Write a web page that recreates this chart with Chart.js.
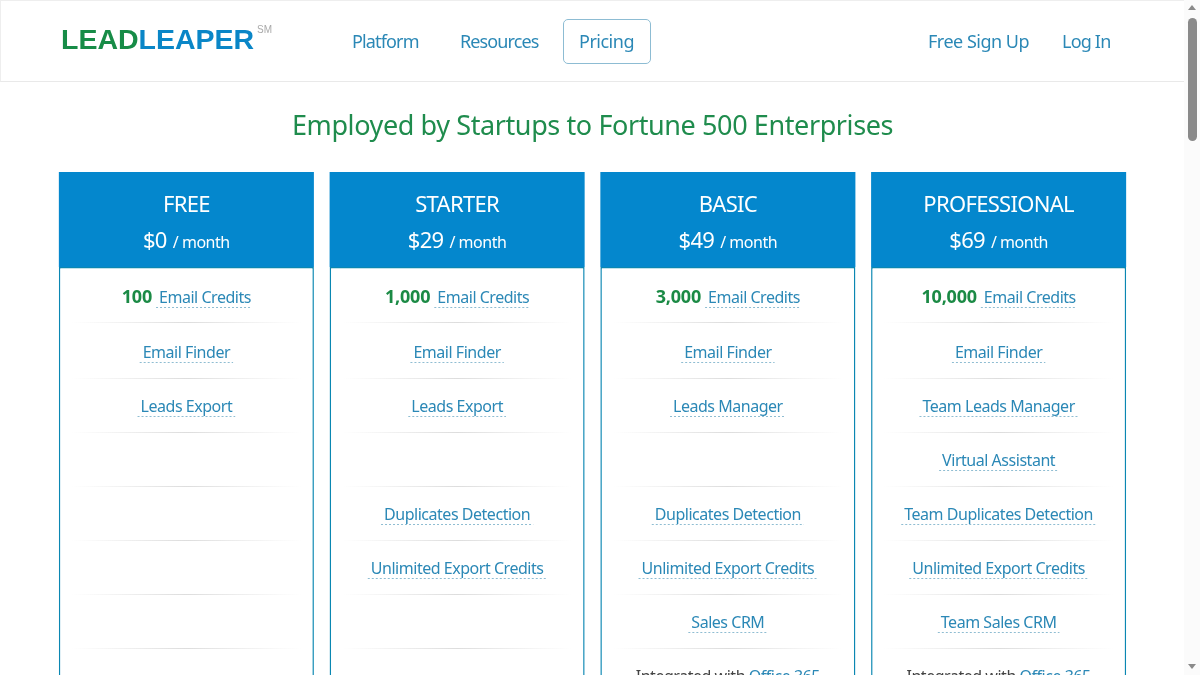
<!DOCTYPE html>
<html>
<head>
<meta charset="utf-8">
<title>LeadLeaper Pricing</title>
<script src="https://cdn.jsdelivr.net/npm/chart.js@4"></script>
<style>
  html, body { margin: 0; height: 675px; overflow: hidden; background: #fff; font-family: "Noto Sans", sans-serif; }
  #chart { position: absolute; left: 0; top: 0; }
  .nav { position: absolute; left: 0; top: 0; width: 1183px; height: 80px; border-top: 1px solid #eee; border-left: 1px solid #eee; border-bottom: 1px solid #e9e9e9; }
  .nav span { position: absolute; color: #2b88b6; font-size: 18px; line-height: 24px; top: 28px; letter-spacing: -0.5px; white-space: nowrap; }
  .logo { position: absolute; left: 60px; top: 21px; font: bold 28.5px "Liberation Sans", sans-serif; line-height: 34px; white-space: nowrap; letter-spacing: 0; }
  .logo b:first-child { color: #178c47; } .logo b:nth-child(2) { color: #0a86c7; }
  .logo sup { position: absolute; left: 196px; top: 2px; font: 10px "Liberation Sans", sans-serif; color: #aaa; letter-spacing: 0; }
  .pill { position: absolute; left: 562px; top: 18px; width: 86px; height: 43px; border: 1px solid #8dbcd3; border-radius: 5px; }
  h1 { position: absolute; left: 0; width: 1185px; top: 106px; margin: 0; text-align: center; font-weight: 400; font-size: 27px; line-height: 38px; color: #1f8c4d; letter-spacing: -0.4px; }
  .scroll { position: absolute; left: 1184px; top: 0; width: 16px; height: 675px; background: #fbfbfb; }
  .thumb { position: absolute; left: 4px; top: 18px; width: 9px; height: 123px; border-radius: 5px; background: #8a8a8a; }
  .up, .down { position: absolute; left: 4px; width: 0; height: 0; border-left: 4.5px solid transparent; border-right: 4.5px solid transparent; }
  .up { top: 5px; border-bottom: 5px solid #8a8a8a; } .down { top: 664px; border-top: 5px solid #8a8a8a; }
</style>
</head>
<body>
<canvas id="chart" width="1200" height="675"></canvas>
<div class="nav">
  <div class="logo"><b>LEAD</b><b>LEAPER</b><sup>SM</sup></div>
  <div class="pill"></div>
  <span style="left:351px;letter-spacing:-0.85px">Platform</span>
  <span style="left:459px;letter-spacing:-0.9px">Resources</span>
  <span style="left:578px">Pricing</span>
  <span style="left:927px">Free Sign Up</span>
  <span style="left:1061px;letter-spacing:-0.8px">Log In</span>
</div>
<h1>Employed by Startups to Fortune 500 Enterprises</h1>
<div class="scroll"><div class="up"></div><div class="thumb"></div><div class="down"></div></div>
<script>
const plans = ['FREE', 'STARTER', 'BASIC', 'PROFESSIONAL'];
const prices = ['$0', '$29', '$49', '$69'];
const credits = ['100', '1,000', '3,000', '10,000'];
const freeRows = ['Email Finder', 'Leads Export', '', '', '', '', ''];
const starterRows = ['Email Finder', 'Leads Export', '', 'Duplicates Detection', 'Unlimited Export Credits', '', ''];
const basicRows = ['Email Finder', 'Leads Manager', '', 'Duplicates Detection', 'Unlimited Export Credits', 'Sales CRM', 'Office 365'];
const proRows = ['Email Finder', 'Team Leads Manager', 'Virtual Assistant', 'Team Duplicates Detection', 'Unlimited Export Credits', 'Team Sales CRM', 'Office 365'];
const planRows = [freeRows, starterRows, basicRows, proRows];

const FONT = '"Noto Sans", sans-serif';
const BLUE = '#2b88b6';
const GREEN = '#1b8a45';
const TOP_ROW = -1.815;
const BOTTOM_ROW = 7.5;
const HEADER_END = -0.055;

function spaced(ctx, font, spacing) {
  ctx.font = font;
  ctx.letterSpacing = spacing;
}

function underline(ctx, x0, x1, y) {
  ctx.save();
  ctx.strokeStyle = '#8fbdd2';
  ctx.lineWidth = 1;
  ctx.setLineDash([2, 2]);
  ctx.beginPath();
  ctx.moveTo(x0, y + 0.5);
  ctx.lineTo(x1, y + 0.5);
  ctx.stroke();
  ctx.restore();
}

const cardText = {
  id: 'cardText',
  afterDatasetsDraw(chart) {
    const ctx = chart.ctx;
    const xs = chart.scales.x;
    const ys = chart.scales.y;
    ctx.save();
    ctx.textBaseline = 'alphabetic';
    plans.forEach((plan, i) => {
      const cx = xs.getPixelForTick(i);

      // card header
      ctx.fillStyle = '#fff';
      ctx.textAlign = 'center';
      spaced(ctx, '22px ' + FONT, '-0.7px');
      ctx.fillText(plan, cx, 212);
      ctx.textAlign = 'left';
      const pw = ctx.measureText(prices[i]).width;
      spaced(ctx, '16px ' + FONT, '-0.47px');
      const mw = ctx.measureText('/ month').width;
      const start = cx - (pw + 6 + mw) / 2;
      spaced(ctx, '22px ' + FONT, '-0.7px');
      ctx.fillText(prices[i], start, 248);
      spaced(ctx, '16px ' + FONT, '-0.47px');
      ctx.fillText('/ month', start + pw + 6, 248);

      // row separators
      [0.96, 2, 3, 4, 5, 6, 7].forEach((r) => {
        const y = Math.round(ys.getPixelForValue(r)) + 0.5;
        const g = ctx.createLinearGradient(cx - 115, 0, cx + 115, 0);
        g.addColorStop(0, 'rgba(220,220,220,0)');
        g.addColorStop(0.5, 'rgba(215,215,215,0.85)');
        g.addColorStop(1, 'rgba(220,220,220,0)');
        ctx.strokeStyle = g;
        ctx.lineWidth = 1;
        ctx.beginPath();
        ctx.moveTo(cx - 115, y);
        ctx.lineTo(cx + 115, y);
        ctx.stroke();
      });

      // credits row
      const cy = ys.getPixelForValue(0.5);
      spaced(ctx, 'bold 18px ' + FONT, '-0.2px');
      const bw = ctx.measureText(credits[i]).width;
      spaced(ctx, '16px ' + FONT, '-0.47px');
      const tw = ctx.measureText('Email Credits').width;
      const left = cx - (bw + 7 + tw) / 2;
      ctx.fillStyle = GREEN;
      spaced(ctx, 'bold 18px ' + FONT, '-0.2px');
      ctx.fillText(credits[i], left, cy + 6);
      ctx.fillStyle = BLUE;
      spaced(ctx, '16px ' + FONT, '-0.47px');
      ctx.fillText('Email Credits', left + bw + 7, cy + 6);
      underline(ctx, left + bw + 4, left + bw + 7 + tw + 1, Math.round(cy) + 10);

      // feature rows
      planRows[i].forEach((label, r) => {
        if (!label) return;
        const y = ys.getPixelForValue(r + 1.5);
        spaced(ctx, '16px ' + FONT, '-0.47px');
        if (label === 'Office 365') {
          const pre = 'Integrated with ';
          const a = ctx.measureText(pre).width;
          const b = ctx.measureText(label).width;
          const x = cx - (a + b) / 2;
          ctx.fillStyle = '#444';
          ctx.fillText(pre, x, y + 7);
          ctx.fillStyle = BLUE;
          ctx.fillText(label, x + a, y + 7);
          return;
        }
        const w = ctx.measureText(label).width;
        const x = cx - w / 2;
        ctx.fillStyle = BLUE;
        ctx.fillText(label, x, y + 7);
        underline(ctx, x - 3, x + w + 3, Math.round(y) + 11);
      });
    });
    ctx.restore();
  },
};

new Chart(document.getElementById('chart'), {
  type: 'bar',
  data: {
    labels: plans,
    datasets: [
      {
        label: 'Body',
        data: plans.map(() => [HEADER_END, BOTTOM_ROW + 1]),
        backgroundColor: '#fff',
        borderColor: '#0a87b2',
        borderWidth: 1.5,
        borderSkipped: false,
      },
      {
        label: 'Header',
        data: plans.map(() => [TOP_ROW, HEADER_END]),
        backgroundColor: '#0487cd',
        borderWidth: 0,
        borderSkipped: false,
      },
    ],
  },
  options: {
    responsive: false,
    animation: false,
    events: [],
    layout: { padding: { left: 51, right: 66, top: 172, bottom: 0 } },
    datasets: { bar: { grouped: false, barPercentage: 0.942, categoryPercentage: 1 } },
    scales: {
      x: { display: false },
      y: { display: false, reverse: true, min: TOP_ROW, max: BOTTOM_ROW },
    },
    plugins: { legend: { display: false }, tooltip: { enabled: false } },
  },
  plugins: [cardText],
});
</script>
</body>
</html>
